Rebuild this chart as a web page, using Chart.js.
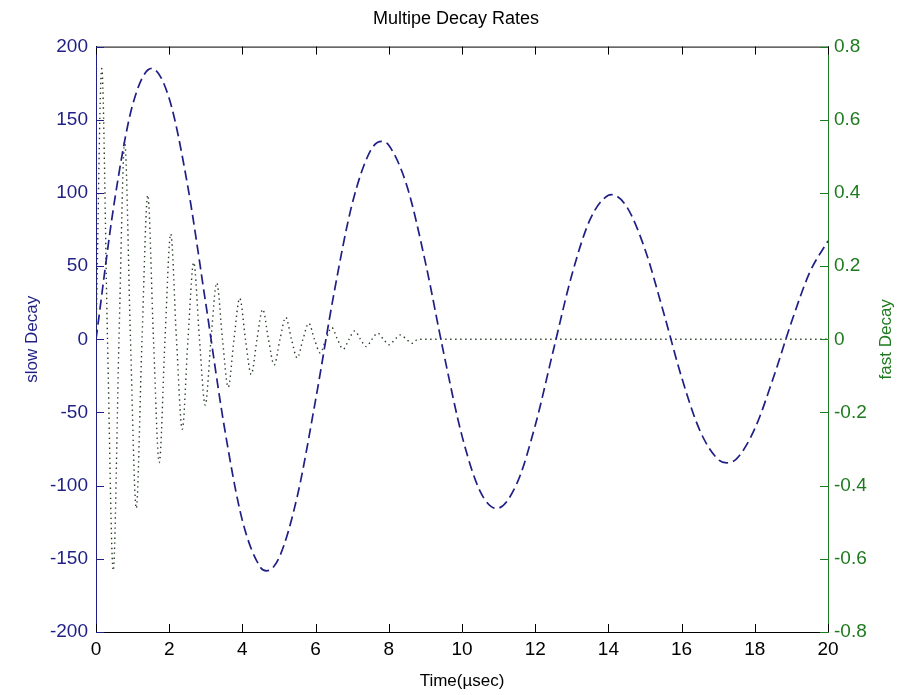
<!DOCTYPE html>
<html>
<head>
<meta charset="utf-8">
<script src="https://cdn.jsdelivr.net/npm/chart.js@4"></script>
<style>
  body { margin: 0; background: #fff; }
  #wrap { width: 912px; height: 695px; }
</style>
</head>
<body>
<div id="wrap"><canvas id="grafico"></canvas></div>
<script>
// slow decay (left axis)
const slowT = [0, 0.5, 1, 1.521, 2, 2.5, 3, 3.5, 4, 4.5, 4.662, 5, 5.5, 6, 6.5, 7, 7.5, 7.804, 8, 8.5, 9, 9.5, 10, 10.5, 10.945, 11.5, 12, 12.5, 13, 13.5, 14, 14.087, 14.5, 15, 15.5, 16, 16.5, 17, 17.228, 17.5, 18, 18.5, 19, 19.5, 20];
const slowY = [0, 93.5, 160.1, 185.1, 164.5, 105.6, 24.3, -58.9, -123.9, -156.1, -158.2, -149.4, -107.2, -41.4, 31.1, 92.6, 128.9, 135.2, 132.6, 104.4, 52.6, -9.4, -66, -104.1, -115.6, -98.5, -58.9, -7.1, 43.9, 81.9, 98.4, 98.8, 90.6, 61.4, 19, -25.9, -62.4, -82.2, -84.4, -81.7, -61.1, -26.8, 11.6, 45.7, 67.2];

// fast decay (right axis): peaks, troughs and zero crossings
const fastT = [0, 0.157, 0.314, 0.471, 0.628, 0.785, 0.942, 1.1, 1.257, 1.414, 1.571, 1.728, 1.885, 2.042, 2.199, 2.356, 2.513, 2.67, 2.827, 2.985, 3.142, 3.299, 3.456, 3.613, 3.77, 3.927, 4.084, 4.241, 4.398, 4.555, 4.712, 4.869, 5.027, 5.184, 5.341, 5.498, 5.655, 5.812, 5.969, 6.126, 6.283, 6.44, 6.597, 6.754, 6.912, 7.069, 7.226, 7.383, 7.54, 7.697, 7.854, 8.011, 8.168, 8.325, 8.482, 8.639, 8.796, 20];
const fastY = [0, 0.74, 0, -0.632, 0, 0.54, 0, -0.462, 0, 0.394, 0, -0.337, 0, 0.288, 0, -0.246, 0, 0.21, 0, -0.18, 0, 0.154, 0, -0.131, 0, 0.112, 0, -0.096, 0, 0.082, 0, -0.07, 0, 0.06, 0, -0.051, 0, 0.044, 0, -0.037, 0, 0.032, 0, -0.027, 0, 0.023, 0, -0.02, 0, 0.017, 0, -0.015, 0, 0.012, 0, -0.011, 0, 0];

const corLenta = "#1f1f85";
const corRapida = "#1e7a1e";
const fonte = "'Liberation Sans', Arial, sans-serif";

// inward tick marks, top frame line and the right label (reads bottom-up like matlab)
const ticksInternos = {
  id: "ticksInternos",
  afterDraw(chart) {
    const { ctx, chartArea: a, scales } = chart;
    const len = 8;
    ctx.save();
    ctx.lineWidth = 1;
    ctx.strokeStyle = "#000";
    ctx.beginPath();
    ctx.moveTo(a.left, a.top + 0.5);
    ctx.lineTo(a.right, a.top + 0.5);
    scales.x.ticks.forEach((t) => {
      const px = Math.round(scales.x.getPixelForValue(t.value)) + 0.5;
      ctx.moveTo(px, a.bottom);
      ctx.lineTo(px, a.bottom - len);
      ctx.moveTo(px, a.top);
      ctx.lineTo(px, a.top + len);
    });
    ctx.stroke();

    ctx.strokeStyle = corLenta;
    ctx.beginPath();
    scales.y.ticks.forEach((t) => {
      const py = Math.round(scales.y.getPixelForValue(t.value)) + 0.5;
      ctx.moveTo(a.left, py);
      ctx.lineTo(a.left + len, py);
    });
    ctx.stroke();

    ctx.strokeStyle = corRapida;
    ctx.beginPath();
    scales.y1.ticks.forEach((t) => {
      const py = Math.round(scales.y1.getPixelForValue(t.value)) + 0.5;
      ctx.moveTo(a.right, py);
      ctx.lineTo(a.right - len, py);
    });
    ctx.stroke();

    ctx.translate(886, (a.top + a.bottom) / 2);
    ctx.rotate(-Math.PI / 2);
    ctx.fillStyle = corRapida;
    ctx.font = "17px " + fonte;
    ctx.textAlign = "center";
    ctx.textBaseline = "middle";
    ctx.fillText("fast Decay", 0, 0);
    ctx.restore();
  },
};

const ctx = document.querySelector("#grafico");

new Chart(ctx, {
  type: "line",
  data: {
    datasets: [
      {
        label: "slow Decay",
        data: slowT.map((t, i) => ({ x: t, y: slowY[i] })),
        yAxisID: "y",
        borderColor: corLenta,
        borderWidth: 1.7,
        borderDash: [10, 5],
        pointRadius: 0,
        cubicInterpolationMode: "monotone",
        fill: false,
      },
      {
        label: "fast Decay",
        data: fastT.map((t, i) => ({ x: t, y: fastY[i] })),
        yAxisID: "y1",
        borderColor: "#263a26",
        borderWidth: 1.4,
        borderDash: [1.4, 3.6],
        pointRadius: 0,
        cubicInterpolationMode: "monotone",
        fill: false,
      },
    ],
  },
  options: {
    responsive: true,
    maintainAspectRatio: false,
    animation: false,
    layout: { padding: 0 },
    plugins: {
      legend: { display: false },
      tooltip: { enabled: false },
      title: {
        display: true,
        text: "Multipe Decay Rates",
        color: "#000",
        font: { family: fonte, size: 18, weight: "normal" },
        padding: { top: 8, bottom: 17 },
      },
    },
    scales: {
      x: {
        type: "linear",
        min: 0,
        max: 20,
        ticks: { stepSize: 2, color: "#000", padding: 6, font: { family: fonte, size: 19 } },
        grid: { display: false, drawTicks: false },
        border: { display: true, color: "#000", width: 1 },
        title: {
          display: true,
          text: "Time(\u00b5sec)",
          color: "#000",
          font: { family: fonte, size: 17 },
          padding: { top: 0, bottom: 3 },
        },
        afterFit: (s) => { s.height = 63; },
      },
      y: {
        position: "left",
        min: -200,
        max: 200,
        ticks: { stepSize: 50, color: corLenta, padding: 8, font: { family: fonte, size: 19 } },
        grid: { display: false, drawTicks: false },
        border: { display: true, color: corLenta, width: 1 },
        title: {
          display: true,
          text: "slow Decay",
          color: corLenta,
          font: { family: fonte, size: 17 },
          padding: { top: 22, bottom: 0 },
        },
        afterFit: (s) => { s.width = 96; },
      },
      y1: {
        position: "right",
        min: -0.8,
        max: 0.8,
        ticks: {
          stepSize: 0.2,
          color: corRapida,
          padding: 6,
          font: { family: fonte, size: 19 },
          callback: (v) => (Math.abs(v) < 1e-9 ? "0" : Number(v.toFixed(1)).toString()),
        },
        grid: { display: false, drawTicks: false },
        border: { display: true, color: corRapida, width: 1 },
        title: { display: false },
        afterFit: (s) => { s.width = 84; },
      },
    },
  },
  plugins: [ticksInternos],
});
</script>
</body>
</html>
